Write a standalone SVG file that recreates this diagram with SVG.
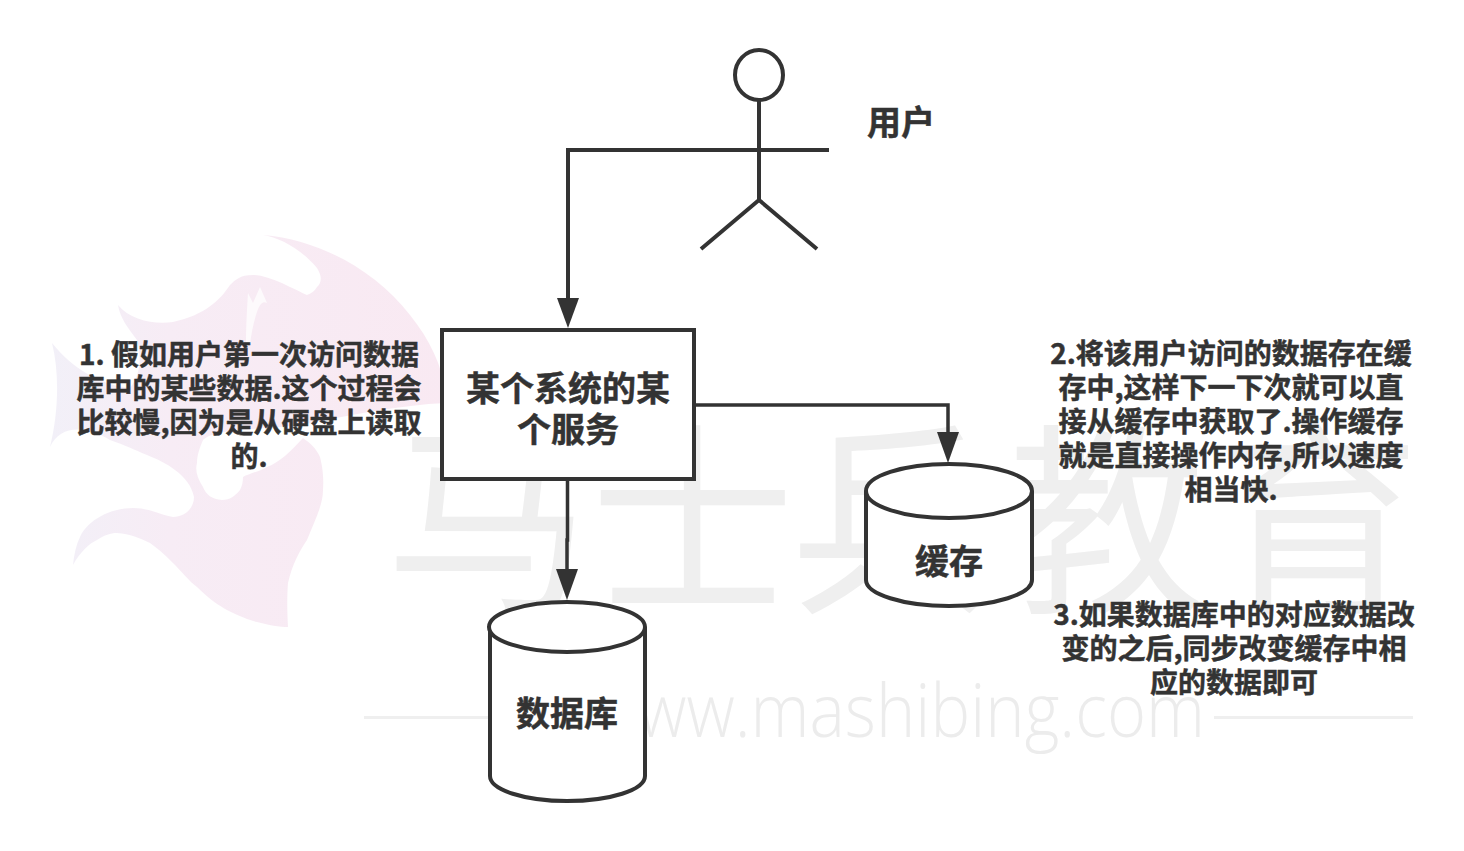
<svg xmlns="http://www.w3.org/2000/svg" width="1464" height="851" viewBox="0 0 1464 851">
<defs>
<linearGradient id="flame" gradientUnits="userSpaceOnUse" x1="50" y1="0" x2="446" y2="0">
<stop offset="0" stop-color="#f2f0f8"/>
<stop offset="0.3" stop-color="#f7ecf5"/>
<stop offset="1" stop-color="#f9e9f2"/>
</linearGradient>
<style>
.wm{fill:#efefef;font-family:"Noto Sans CJK SC","Noto Sans",sans-serif;font-weight:400}
.t{fill:#333;stroke:#333;stroke-width:.5;font-family:"Noto Sans CJK SC","Liberation Sans",sans-serif;font-weight:700;text-anchor:middle}
.s{font-size:28px}.l{font-size:34px}
.line{fill:none;stroke:#333;stroke-width:4}
.thin{stroke-width:3.500}
.shape{fill:#fff;stroke:#333;stroke-width:4}
.head{fill:#333;stroke:none}
</style>
</defs>
<rect width="1464" height="851" fill="#fff"/>
<g id="watermark">
<path fill="url(#flame)" d="M263 235C280 238 300 248 317 268C322 276 322 282 317 287C314 292 310 294 307 295C295 290 270 275 253 275C240 275 235 280 230 285C220 300 205 315 173 322C155 325 130 320 118 305C120 318 128 328 137 340C142 360 140 375 130 388C100 385 72 368 52 343C60 375 58 415 50 447C60 425 85 425 110 440C125 445 135 450 147 455C165 462 190 475 194 497C194 508 185 517 173 517C160 515 150 508 133 508C110 508 88 520 80 537C76 545 74 555 73 565C80 552 90 543 97 540C105 535 110 533 117 533C130 534 140 538 150 543C160 550 168 558 173 563C180 570 190 582 197 587C210 600 220 606 227 610C240 617 250 620 257 622C268 625 280 627 288 627C287 610 287 595 288 583C292 565 300 550 307 540C315 520 323 505 323 490C324 475 322 465 320 457C316 448 310 443 303 438C290 452 280 462 267 467C258 472 248 474 243 477C243 482 242 486 240 490C235 496 230 500 222 500C212 499 206 495 203 487C197 478 195 470 197 463C197 455 200 447 203 440C215 428 260 430 300 425C350 415 400 405 446 403V395C442 365 430 340 410 315C375 270 320 240 263 235Z"/>
<path fill="#fdfafc" d="M248 293L253 303L260 287L267 303C262 300 259 305 256 315C253 325 251 335 250 345H246C246 325 247 310 248 293Z"/>
<text class="wm" y="597" font-size="205" x="385 590 790 1000 1215">马士兵教育</text>
<rect x="364" y="716" width="126" height="3" fill="#efefef"/>
<rect x="1214" y="716" width="199" height="3" fill="#efefef"/>
<text x="590" y="737" font-size="74" textLength="615" lengthAdjust="spacingAndGlyphs" fill="#ececec" font-family="'Open Sans','Noto Sans',sans-serif" font-weight="300">www.mashibing.com</text>
</g>
<g id="connectors">
<path class="line" d="M829 150H568V300"/>
<path class="head" d="M557 298H579L568 328Z"/>
<path class="line thin" d="M694 405H948V434"/>
<path class="head" d="M937 432H959L948 463Z"/>
<path class="line thin" d="M567.500 479V540H567V572"/>
<path class="head" d="M556 569H578L567 600Z"/>
</g>
<g id="user" class="actor">
<ellipse class="line" cx="759" cy="75" rx="24" ry="25"/>
<path class="line" d="M759 100V200M759 200L701 249M759 200L817 249"/>
<text class="t l" x="901" y="135">用户</text>
</g>
<g id="service">
<rect class="shape" x="442" y="330" width="252" height="149"/>
<text class="t l" x="568" y="401">某个系统的某</text>
<text class="t l" x="568" y="442">个服务</text>
</g>
<g id="db">
<path class="shape" d="M490 627V776C490 790 525 801 567 801C610 801 645 790 645 776V627"/>
<ellipse class="shape" cx="567" cy="627" rx="78" ry="25"/>
<text class="t l" x="567" y="726">数据库</text>
</g>
<g id="cache">
<path class="shape" d="M866 491V580C866 594 903 606 949 606C995 606 1032 594 1032 580V491"/>
<ellipse class="shape" cx="949" cy="491" rx="83" ry="27"/>
<text class="t l" x="949" y="574">缓存</text>
</g>
<g id="note1">
<text class="t s" x="249" y="365">1. 假如用户第一次访问数据</text>
<text class="t s" x="249" y="399">库中的某些数据.这个过程会</text>
<text class="t s" x="249" y="433">比较慢,因为是从硬盘上读取</text>
<text class="t s" x="249" y="467">的.</text>
</g>
<g id="note2">
<text class="t s" x="1231" y="364">2.将该用户访问的数据存在缓</text>
<text class="t s" x="1231" y="398">存中,这样下一下次就可以直</text>
<text class="t s" x="1231" y="432">接从缓存中获取了.操作缓存</text>
<text class="t s" x="1231" y="466">就是直接操作内存,所以速度</text>
<text class="t s" x="1231" y="500">相当快.</text>
</g>
<g id="note3">
<text class="t s" x="1234" y="625">3.如果数据库中的对应数据改</text>
<text class="t s" x="1234" y="659">变的之后,同步改变缓存中相</text>
<text class="t s" x="1234" y="693">应的数据即可</text>
</g>
</svg>
